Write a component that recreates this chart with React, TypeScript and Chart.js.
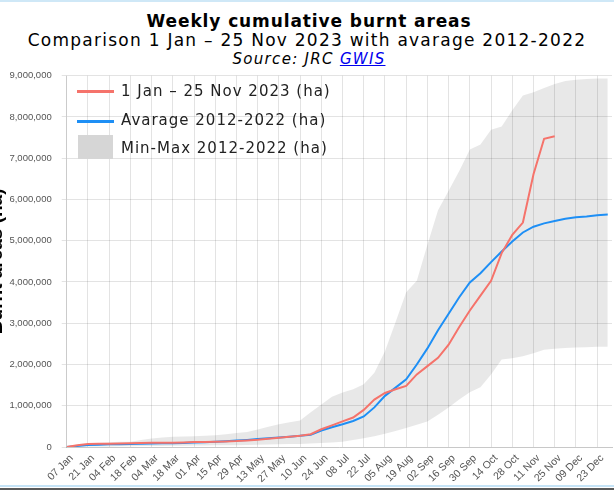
import React, { useEffect, useRef } from 'react';
import { Chart, registerables } from 'chart.js';

Chart.register(...registerables);

const weekLabels = [
  '07 Jan', '14 Jan', '21 Jan', '28 Jan', '04 Feb', '11 Feb', '18 Feb', '25 Feb',
  '04 Mar', '11 Mar', '18 Mar', '25 Mar', '01 Apr', '08 Apr', '15 Apr', '22 Apr',
  '29 Apr', '06 May', '13 May', '20 May', '27 May', '03 Jun', '10 Jun', '17 Jun',
  '24 Jun', '01 Jul', '08 Jul', '15 Jul', '22 Jul', '29 Jul', '05 Aug', '12 Aug',
  '19 Aug', '26 Aug', '02 Sep', '09 Sep', '16 Sep', '23 Sep', '30 Sep', '07 Oct',
  '14 Oct', '21 Oct', '28 Oct', '04 Nov', '11 Nov', '18 Nov', '25 Nov', '02 Dec',
  '09 Dec', '16 Dec', '23 Dec', '30 Dec',
];

const burnt2023 = [
  0, 40000, 72000, 76000, 80000, 84000, 88000, 94000, 100000, 102000, 103000, 111000,
  119000, 123000, 127000, 135000, 143000, 158000, 175000, 198000, 222000, 246000, 270000,
  310000, 430000, 525000, 620000, 715000, 900000, 1150000, 1310000, 1400000, 1480000,
  1760000, 1960000, 2160000, 2480000, 2910000, 3310000, 3670000, 4030000, 4700000,
  5140000, 5440000, 6610000, 7470000, 7530000,
];

const average2012_2022 = [
  0, 25000, 48000, 57000, 64000, 68000, 72000, 78000, 84000, 88000, 91000, 99000,
  107000, 117000, 127000, 140000, 155000, 172000, 191000, 210000, 231000, 250000, 270000,
  294000, 400000, 480000, 550000, 630000, 740000, 960000, 1240000, 1440000, 1640000,
  2000000, 2390000, 2830000, 3230000, 3630000, 3990000, 4210000, 4480000, 4740000,
  4980000, 5200000, 5340000, 5420000, 5480000, 5530000, 5570000, 5590000, 5620000, 5634000,
];

const min2012_2022 = [
  0, 5000, 10000, 12000, 15000, 17000, 20000, 22000, 25000, 27000, 30000, 32000,
  35000, 37000, 40000, 42000, 45000, 50000, 55000, 60000, 65000, 70000, 75000,
  85000, 95000, 110000, 130000, 170000, 210000, 260000, 320000, 390000, 460000,
  540000, 620000, 780000, 960000, 1150000, 1330000, 1450000, 1760000, 2120000,
  2150000, 2200000, 2270000, 2360000, 2380000, 2400000, 2410000, 2420000, 2430000, 2430000,
];

const max2012_2022 = [
  15000, 45000, 80000, 95000, 115000, 125000, 130000, 170000, 207000, 230000, 247000, 255000,
  263000, 275000, 286000, 310000, 342000, 366000, 422000, 490000, 549000, 600000, 645000,
  843000, 1030000, 1220000, 1320000, 1400000, 1520000, 1800000, 2320000, 3030000, 3750000,
  4030000, 4900000, 5740000, 6210000, 6690000, 7210000, 7330000, 7690000, 7770000,
  8160000, 8520000, 8600000, 8700000, 8800000, 8870000, 8900000, 8920000, 8930000, 8930000,
];

const yTicksMax = 9000000;
const yStep = 1000000;

const legendLabels = [
  '1 Jan \u2013 25 Nov 2023 (ha)',
  'Avarage 2012-2022 (ha)',
  'Min-Max 2012-2022 (ha)',
];

const RED = '#f5736b';
const BLUE = '#1e8ff5';
const GRID = 'rgba(0,0,0,0.11)';
const Y_TICK_FONT = { family: "'Liberation Sans', Arial, sans-serif", size: 9.5 };
const X_TICK_FONT = { family: "'Liberation Sans', Arial, sans-serif", size: 10.5 };
const CANVAS_SHIFT = 15;

export default function App() {
  const ref = useRef<HTMLCanvasElement>(null);

  useEffect(() => {
    const canvas = ref.current!;
    const toXY = (arr: number[]) => arr.map((v, i) => ({ x: i, y: v }));
    const chart = new Chart(canvas, {
      type: 'line',
      data: {
        datasets: [
          {
            label: legendLabels[0],
            data: toXY(burnt2023),
            borderColor: RED,
            borderWidth: 2,
            pointRadius: 0,
            fill: false,
            tension: 0,
            order: 0,
          },
          {
            label: legendLabels[1],
            data: toXY(average2012_2022),
            borderColor: BLUE,
            borderWidth: 2,
            pointRadius: 0,
            fill: false,
            tension: 0,
            order: 1,
          },
          {
            label: 'min',
            data: toXY(min2012_2022),
            borderWidth: 0,
            borderColor: 'rgba(0,0,0,0)',
            pointRadius: 0,
            fill: false,
            order: 2,
          },
          {
            label: legendLabels[2],
            data: toXY(max2012_2022),
            borderWidth: 0,
            borderColor: 'rgba(0,0,0,0)',
            backgroundColor: 'rgba(0,0,0,0.09)',
            pointRadius: 0,
            fill: '-1',
            order: 3,
          },
        ],
      },
      options: {
        responsive: false,
        animation: false,
        layout: { padding: { left: 0, right: 2, top: 10, bottom: 0 } },
        plugins: {
          legend: { display: false },
          tooltip: { enabled: false },
          title: { display: false },
        },
        scales: {
          x: {
            type: 'linear',
            min: 0,
            max: 51.4,
            afterFit: (s: any) => {
              s.height = 43;
            },
            grid: { color: GRID, drawTicks: false },
            border: { color: '#c8c8c8' },
            ticks: {
              stepSize: 2,
              includeBounds: false,
              autoSkip: false,
              maxRotation: 45,
              minRotation: 45,
              padding: 5,
              labelOffset: 5,
              font: X_TICK_FONT,
              color: '#555',
              callback: (v: any) => {
                const i = Math.round(Number(v));
                return i % 2 === 0 && weekLabels[i] ? weekLabels[i] : null;
              },
            },
          },
          y: {
            min: 0,
            max: yTicksMax,
            afterFit: (s: any) => {
              s.width = 66.7 + CANVAS_SHIFT;
            },
            title: {
              display: true,
              text: 'Burnt areas (ha)',
              color: '#000',
              padding: 0,
              font: { family: "'Liberation Sans', Arial, sans-serif", size: 19, weight: 'bold' },
            },
            grid: { color: GRID, tickLength: 5 },
            border: { color: GRID },
            ticks: {
              stepSize: yStep,
              padding: 10,
              font: Y_TICK_FONT,
              color: '#555',
              callback: (v: any) => Number(v).toLocaleString('en-US'),
            },
          },
        },
      },
    } as any);
    return () => chart.destroy();
  }, []);

  const legendText: React.CSSProperties = {
    position: 'absolute',
    left: 121,
    fontFamily: "'DejaVu Sans', sans-serif",
    fontSize: 15,
    lineHeight: '18px',
    letterSpacing: '1px',
    color: '#222',
    whiteSpace: 'nowrap',
  };

  return (
    <div
      style={{
        position: 'absolute',
        left: 0,
        top: 0,
        width: 614,
        height: 490,
        overflow: 'hidden',
        background: '#fff',
        fontFamily: "'DejaVu Sans', sans-serif",
      }}
    >
      <div style={{ position: 'absolute', left: 0, top: 0, width: 614, height: 2, background: '#cfe8f7' }} />
      <div
        style={{
          position: 'absolute', left: 2, top: 11, width: 614, textAlign: 'center',
          fontSize: 17, lineHeight: '20px', fontWeight: 'bold', letterSpacing: '0.9px', color: '#000',
        }}
      >
        Weekly cumulative burnt areas
      </div>
      <div
        style={{
          position: 'absolute', left: 0, top: 30, width: 614, textAlign: 'center',
          fontSize: 17, lineHeight: '20px', letterSpacing: '1.25px', color: '#000',
        }}
      >
        Comparison 1 Jan – 25 Nov 2023 with avarage 2012-2022
      </div>
      <div
        style={{
          position: 'absolute', left: 2, top: 49.5, width: 614, textAlign: 'center',
          fontSize: 15, lineHeight: '18px', fontStyle: 'italic', letterSpacing: '1.3px', color: '#000',
        }}
      >
        Source: JRC <a href="#" style={{ color: '#0000ee', textDecoration: 'underline' }}>GWIS</a>
      </div>
      <canvas
        ref={ref}
        width={614 + CANVAS_SHIFT}
        height={430}
        style={{ position: 'absolute', left: -CANVAS_SHIFT, top: 60, width: 614 + CANVAS_SHIFT, height: 430 }}
      />
      <div style={{ position: 'absolute', left: 77, top: 90, width: 37, height: 2.5, background: RED }} />
      <div style={{ ...legendText, top: 81.5 }}>{legendLabels[0]}</div>
      <div style={{ position: 'absolute', left: 77, top: 120, width: 37, height: 2.5, background: BLUE }} />
      <div style={{ ...legendText, top: 110.8 }}>{legendLabels[1]}</div>
      <div style={{ position: 'absolute', left: 77.7, top: 135, width: 35, height: 24, background: '#d6d6d6' }} />
      <div style={{ ...legendText, top: 139.1 }}>{legendLabels[2]}</div>
      <div style={{ position: 'absolute', left: 0, top: 485, width: 614, height: 2, background: '#c5e3f6' }} />
      <div style={{ position: 'absolute', left: 0, top: 488, width: 614, height: 2, background: '#5a5a5a' }} />
    </div>
  );
}
